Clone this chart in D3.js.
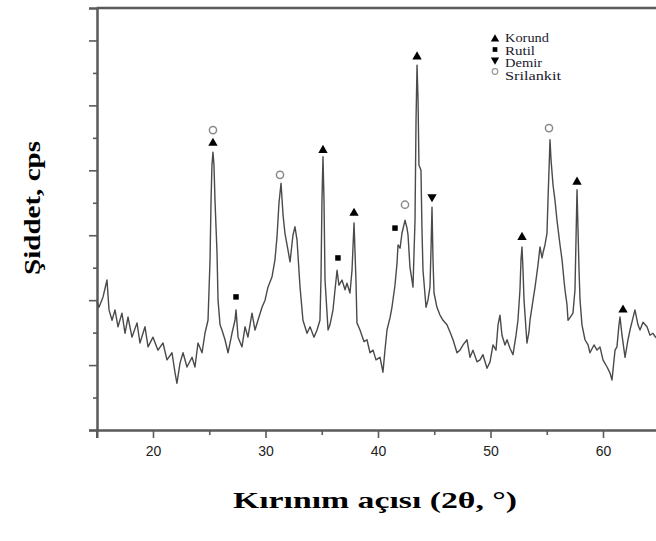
<!DOCTYPE html>
<html><head><meta charset="utf-8">
<script src="https://cdn.jsdelivr.net/npm/d3@7"></script>
<style>
html,body{margin:0;padding:0;background:#fff;}
svg{display:block;}
</style></head>
<body>
<svg id="chart" width="656" height="541"></svg>
<script>
// ---- data ----
const twoTheta = [15.02,15.20,15.56,15.91,16.09,16.36,16.62,16.89,17.24,17.51,17.78,18.13,18.58,18.84,19.29,19.56,20.00,20.44,20.89,21.24,21.69,21.96,22.13,22.40,22.67,23.02,23.47,23.73,24.00,24.36,24.62,24.89,25.07,25.16,25.24,25.33,25.42,25.51,25.69,25.78,25.96,26.13,26.40,26.67,27.02,27.29,27.38,27.56,27.91,28.18,28.44,28.80,29.07,29.33,29.69,29.96,30.22,30.58,30.84,31.02,31.20,31.38,31.56,31.73,32.00,32.18,32.44,32.62,32.80,33.07,33.33,33.69,33.96,34.31,34.58,34.84,34.93,35.02,35.11,35.20,35.29,35.56,35.73,36.00,36.18,36.36,36.53,36.80,37.07,37.24,37.51,37.69,37.87,38.04,38.13,38.40,38.76,39.02,39.29,39.56,39.82,40.18,40.44,40.62,40.80,41.07,41.24,41.51,41.69,41.78,41.96,42.13,42.40,42.58,42.67,42.84,43.02,43.11,43.29,43.38,43.47,43.56,43.64,43.82,43.91,44.00,44.27,44.44,44.62,44.71,44.80,44.89,44.98,45.24,45.51,45.78,46.13,46.40,46.67,47.02,47.29,47.56,47.91,48.18,48.44,48.80,49.07,49.33,49.69,49.96,50.22,50.49,50.67,50.84,51.02,51.29,51.47,51.73,52.00,52.27,52.44,52.62,52.71,52.80,52.89,52.98,53.16,53.24,53.42,53.51,53.78,53.96,54.22,54.40,54.58,54.67,54.84,55.02,55.11,55.20,55.29,55.38,55.56,55.73,55.91,56.18,56.36,56.53,56.62,56.80,56.89,57.07,57.33,57.51,57.60,57.69,57.78,57.87,57.96,58.13,58.40,58.67,58.84,59.20,59.47,59.73,60.00,60.36,60.62,60.80,61.07,61.24,61.42,61.51,61.69,61.96,62.22,62.40,62.67,62.84,63.11,63.29,63.56,63.91,64.18,64.44,64.71];
const intensity = [197,189,205,231,185,169,185,159,180,149,174,143,165,134,159,128,143,123,134,108,119,88,72,103,119,97,112,97,134,119,149,169,262,354,408,428,408,354,273,200,162,154,139,119,149,169,185,143,128,159,143,180,154,169,189,200,220,236,262,297,350,380,331,303,277,259,300,313,293,220,169,149,159,143,154,169,231,354,421,354,231,154,162,185,216,246,223,231,216,226,211,246,319,231,165,154,136,139,119,123,108,112,89,123,154,173,189,223,257,285,280,303,323,311,300,251,231,220,323,477,562,508,408,400,308,246,189,200,220,277,343,262,211,189,177,169,162,151,139,119,123,131,139,112,123,105,108,116,95,105,131,123,162,177,146,131,139,126,116,146,169,216,262,282,246,200,154,134,151,169,200,220,254,282,265,273,285,303,354,400,447,416,377,354,323,285,262,231,216,193,169,173,180,216,293,370,308,246,200,162,139,131,119,131,123,128,108,97,88,77,123,128,162,174,146,112,139,154,173,185,162,154,166,159,146,149,142];

const phases = ["Korund", "Rutil", "Demir", "Srilankit"];
const korundTheta = [25.33, 35.11, 37.87, 43.47, 52.80, 57.69, 61.78];
const korundY     = [442, 431, 334, 575, 297, 382, 185];
const rutilTheta  = [27.38, 36.44, 41.51];
const rutilY      = [205, 265, 311];
const demirTheta  = [44.80];
const demirY      = [359];
const srilankitTheta = [25.33, 31.29, 42.40, 55.20];
const srilankitY     = [462, 393, 347, 465];

const xMajorTicks = [20, 30, 40, 50, 60];
const xMinorTicks = [15, 25, 35, 45, 55, 65];
const yMajorTicks = [0, 100, 200, 300, 400, 500, 600];
const yMinorTicks = [50, 150, 250, 350, 450, 550];

const xTitle = "Kırınım açısı (2θ, °)";
const yTitle = "Şiddet, cps";

// ---- drawing ----
const svg = d3.select("#chart");
const x = d3.scaleLinear().domain([15, 65]).range([96.75, 659.25]);
const y = d3.scaleLinear().domain([0, 650]).range([430, 8]);
const axisColor = "#5a5a5a";

// axes
const gx = svg.append("g").attr("transform", "translate(0,430)")
  .call(d3.axisBottom(x).tickValues(xMajorTicks).tickSize(8).tickPadding(8).tickFormat(d3.format("d")));
svg.append("g").attr("transform", "translate(0,430)")
  .call(d3.axisBottom(x).tickValues(xMinorTicks).tickSize(5).tickFormat(""))
  .select(".domain").remove();
const gy = svg.append("g").attr("transform", "translate(97,0)")
  .call(d3.axisLeft(y).tickValues(yMajorTicks).tickSize(8).tickFormat(""));
svg.append("g").attr("transform", "translate(97,0)")
  .call(d3.axisLeft(y).tickValues(yMinorTicks).tickSize(4).tickFormat(""))
  .select(".domain").remove();

svg.selectAll(".domain").attr("stroke", axisColor).attr("stroke-width", 2.5);
svg.selectAll(".tick line").attr("stroke", axisColor).attr("stroke-width", 1.6);
gx.selectAll(".tick text")
  .attr("font-family", "Liberation Sans, Arial, sans-serif")
  .attr("font-size", 14).attr("fill", "#222");

// top frame line
svg.append("line")
  .attr("x1", x(15)).attr("x2", x(65)).attr("y1", y(650)).attr("y2", y(650))
  .attr("stroke", axisColor).attr("stroke-width", 2.5);

// pattern line
const pts = twoTheta.map((t, i) => [t, intensity[i]]);
svg.append("path")
  .datum(pts)
  .attr("fill", "none")
  .attr("stroke", "#4a4a4a")
  .attr("stroke-width", 1.4)
  .attr("stroke-linejoin", "round")
  .attr("d", d3.line().x(d => x(d[0])).y(d => y(d[1])));

// phase markers
const triUp = d3.symbol().type(d3.symbolTriangle).size(38);
const sq = d3.symbol().type(d3.symbolSquare).size(30);
function drawTri(tx, ty, up, s) {
  svg.append("path").attr("d", d3.symbol().type(d3.symbolTriangle).size(s || 38)())
    .attr("transform", `translate(${tx},${ty}) rotate(${up ? 0 : 180})`)
    .attr("fill", "#000");
}
korundTheta.forEach((t, i) => drawTri(x(t), y(korundY[i]), true));
demirTheta.forEach((t, i) => drawTri(x(t), y(demirY[i]), false));
rutilTheta.forEach((t, i) => {
  svg.append("path").attr("d", sq())
    .attr("transform", `translate(${x(t)},${y(rutilY[i])})`).attr("fill", "#000");
});
srilankitTheta.forEach((t, i) => {
  svg.append("circle").attr("cx", x(t)).attr("cy", y(srilankitY[i])).attr("r", 3.6)
    .attr("fill", "#fff").attr("stroke", "#8a8a8a").attr("stroke-width", 1.5);
});

// legend
const legY = [39, 51.5, 64, 76.5];
const legW = [44, 30, 37, 56];
const legX = 495;
drawTri(legX, legY[0], true, 30);
svg.append("path").attr("d", d3.symbol().type(d3.symbolSquare).size(22)())
  .attr("transform", `translate(${legX},${legY[1] - 2})`).attr("fill", "#000");
drawTri(legX, legY[2] - 4, false, 30);
svg.append("circle").attr("cx", legX).attr("cy", legY[3] - 5).attr("r", 2.8)
  .attr("fill", "#fff").attr("stroke", "#999").attr("stroke-width", 1.2);
svg.selectAll(".leg").data(phases).enter().append("text")
  .attr("class", "leg")
  .attr("x", 505).attr("y", (d, i) => legY[i] + 3)
  .attr("font-family", "Liberation Serif, Times New Roman, serif")
  .attr("font-size", 11.5).attr("fill", "#1a1a2e")
  .attr("textLength", (d, i) => legW[i]).attr("lengthAdjust", "spacingAndGlyphs")
  .text(d => d);

// axis titles
svg.append("text")
  .attr("x", 375).attr("y", 508).attr("text-anchor", "middle")
  .attr("font-family", "Liberation Serif, Times New Roman, serif")
  .attr("font-weight", "bold").attr("font-size", 24).attr("fill", "#000")
  .attr("textLength", 284).attr("lengthAdjust", "spacingAndGlyphs")
  .text(xTitle);
svg.append("text")
  .attr("transform", "translate(40,208) rotate(-90)").attr("text-anchor", "middle")
  .attr("font-family", "Liberation Serif, Times New Roman, serif")
  .attr("font-weight", "bold").attr("font-size", 23).attr("fill", "#000")
  .attr("textLength", 134).attr("lengthAdjust", "spacingAndGlyphs")
  .text(yTitle);
</script>
</body></html>
